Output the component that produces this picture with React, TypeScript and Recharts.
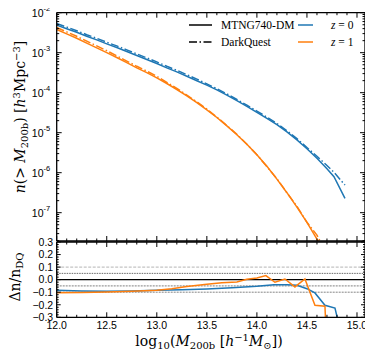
import React from 'react';
import { LineChart, Line, XAxis, YAxis, ReferenceLine } from 'recharts';

const BLUE = '#1f77b4';
const ORANGE = '#ff7f0e';
const TICK_FONT = '"Liberation Sans", Arial, sans-serif';
const SERIF = '"Liberation Serif", "DejaVu Serif", serif';
const TITLE_SERIF = '"DejaVu Serif", "Liberation Serif", serif';
const DASHDOT = '8 2.5 1.5 2.5';

// ---- data: cumulative halo mass function, log10 n(>M) ----
const massZ0 = [12.0, 12.1, 12.2, 12.3, 12.4, 12.5, 12.6, 12.7, 12.8, 12.9, 13.0, 13.1, 13.2, 13.3, 13.4, 13.5, 13.6, 13.7, 13.8, 13.9, 14.0, 14.1, 14.2, 14.3, 14.4, 14.5, 14.6, 14.7, 14.77, 14.88];
const logMtngZ0 = [-2.31, -2.40, -2.49, -2.59, -2.68, -2.78, -2.87, -2.97, -3.07, -3.17, -3.27, -3.38, -3.48, -3.59, -3.70, -3.81, -3.93, -4.06, -4.20, -4.34, -4.49, -4.64, -4.80, -4.98, -5.18, -5.40, -5.64, -5.90, -6.10, -6.64];
const logDqZ0 = [-2.27, -2.36, -2.45, -2.55, -2.64, -2.74, -2.83, -2.93, -3.03, -3.13, -3.23, -3.34, -3.44, -3.55, -3.66, -3.78, -3.90, -4.03, -4.17, -4.31, -4.46, -4.61, -4.77, -4.95, -5.15, -5.37, -5.59, -5.82, -5.99, -6.31];

const massZ1 = [12.0, 12.1, 12.2, 12.3, 12.4, 12.5, 12.6, 12.7, 12.8, 12.9, 13.0, 13.1, 13.2, 13.3, 13.4, 13.5, 13.6, 13.7, 13.8, 13.9, 14.0, 14.1, 14.2, 14.3, 14.4, 14.5, 14.6, 14.7];
const logMtngZ1 = [-2.42, -2.53, -2.64, -2.76, -2.88, -3.00, -3.12, -3.25, -3.38, -3.50, -3.63, -3.77, -3.92, -4.08, -4.25, -4.43, -4.62, -4.83, -5.05, -5.29, -5.55, -5.84, -6.16, -6.50, -6.86, -7.24, -7.66, -8.12];
const logDqZ1 = [-2.37, -2.48, -2.59, -2.71, -2.83, -2.95, -3.08, -3.21, -3.34, -3.46, -3.59, -3.74, -3.89, -4.06, -4.23, -4.41, -4.61, -4.82, -5.04, -5.29, -5.55, -5.85, -6.15, -6.50, -6.84, -7.24, -7.56, -8.05];

// ---- data: relative difference Δn/n_DQ ----
const ratioMassZ0 = [12.0, 12.25, 12.5, 12.75, 13.0, 13.25, 13.5, 13.75, 14.0, 14.17, 14.3, 14.4, 14.5, 14.58, 14.68, 14.78, 14.82];
const ratioZ0 = [-0.085, -0.09, -0.093, -0.09, -0.085, -0.08, -0.074, -0.065, -0.053, -0.04, -0.04, -0.045, -0.072, -0.106, -0.204, -0.226, -0.36];
const ratioMassZ1 = [12.0, 12.25, 12.5, 12.75, 13.0, 13.15, 13.3, 13.5, 13.65, 13.8, 13.9, 14.0, 14.09, 14.18, 14.28, 14.38, 14.48, 14.58, 14.68, 14.69];
const ratioZ1 = [-0.104, -0.103, -0.098, -0.093, -0.085, -0.072, -0.055, -0.037, -0.024, -0.019, 0.003, 0.013, 0.032, -0.021, 0.005, -0.058, 0.005, -0.204, -0.212, -0.40];

// ---- ticks ----
const xMajorTicks = [12.0, 12.5, 13.0, 13.5, 14.0, 14.5, 15.0];
const xDomain = [12.0, 15.08];
const yTopMajorTicks = [1e-7, 1e-6, 1e-5, 1e-4, 1e-3, 1e-2];
const yTopDomain = [1.96e-8, 1e-2];
const yBotMajorTicks = [-0.3, -0.2, -0.1, 0.0, 0.1, 0.2, 0.3];
const refLevels = [0.1, 0.05, 0.0, -0.05, -0.1];

const xAllTicks: number[] = [];
for (let i = 120; i <= 150; i++) xAllTicks.push(i / 10);
const yTopAllTicks: number[] = [];
for (let e = -8; e <= -3; e++) for (let k = 1; k <= 9; k++) {
  const v = k * Math.pow(10, e);
  if (v >= yTopDomain[0] && v <= yTopDomain[1] * 1.0001) yTopAllTicks.push(v);
}
yTopAllTicks.push(1e-2);
const yBotAllTicks: number[] = [];
for (let i = -15; i <= 15; i++) yBotAllTicks.push(i / 50);

const toTable = (xs: number[], logs: number[]) => xs.map((x, i) => ({ x, y: Math.pow(10, logs[i]) }));
const toPairs = (xs: number[], ys: number[]) => xs.map((x, i) => ({ x, y: ys[i] }));

const isXMajor = (v: number) => xMajorTicks.some((t) => Math.abs(t - v) < 1e-6);
const isLogMajor = (v: number) => yTopMajorTicks.some((t) => Math.abs(Math.log10(t) - Math.log10(v)) < 1e-6);
const isBotMajor = (v: number) => yBotMajorTicks.some((t) => Math.abs(t - v) < 1e-6);

type Side = 'left' | 'right' | 'top' | 'bottom';
const makeTick = (side: Side, isMajor: (v: number) => boolean, majLen: number, minLen: number,
  label?: (v: number, x: number, y: number) => React.ReactNode) => (props: any) => {
  const { x, y, payload } = props;
  const v = payload.value;
  const maj = isMajor(v);
  const L = maj ? majLen : minLen;
  let x2 = x, y2 = y;
  if (side === 'left') x2 = x + L;
  if (side === 'right') x2 = x - L;
  if (side === 'top') y2 = y + L;
  if (side === 'bottom') y2 = y - L;
  return (
    <g>
      <line x1={x} y1={y} x2={x2} y2={y2} stroke="#000" strokeWidth={1} />
      {maj && label ? label(v, x, y) : null}
    </g>
  );
};

const xLabel = (v: number, x: number, y: number) => (
  <text x={x} y={y + 12} textAnchor="middle" fontFamily={TICK_FONT} fontSize={10.5} fill="#000">{v.toFixed(1)}</text>
);
const logLabel = (v: number, x: number, y: number) => {
  const e = Math.round(Math.log10(v));
  return (
    <text x={x - 6.5} y={y + 4} textAnchor="end" fontFamily={TICK_FONT} fontSize={10.5} fill="#000">
      <tspan>10</tspan>
      <tspan dy={-5.5} fontSize={7.5}>{'-' + Math.abs(e)}</tspan>
    </text>
  );
};
const botLabel = (v: number, x: number, y: number) => {
  const r = Math.round(v * 10) / 10;
  const s = r === 0 ? '0.0' : (r < 0 ? '\u2212' + Math.abs(r).toFixed(1) : r.toFixed(1));
  return (
    <text x={x - 3.5} y={y + 3.8} textAnchor="end" fontFamily={TICK_FONT} fontSize={10.5} fill="#000">{s}</text>
  );
};

const AXIS_LINE = { stroke: '#000', strokeWidth: 1.3 };

const refStyles = [
  { stroke: '#c4c4c4', dash: '3 1.5', w: 1.3 },
  { stroke: '#444', dash: '1.5 1', w: 0.8 },
  { stroke: '#000', dash: undefined, w: 1.3 },
  { stroke: '#9a9a9a', dash: '2 1', w: 1.3 },
  { stroke: '#666', dash: '2 1', w: 0.8 },
];

export default function App() {
  return (
    <div style={{ position: 'relative', width: 373, height: 360, margin: '-8px 0 0 -8px', background: '#fff' }}>
      <div style={{ position: 'absolute', left: 0, top: 0 }}>
        <LineChart width={373} height={250} margin={{ top: 11.7, right: 7, bottom: 8, left: 55.7 }}>
          <XAxis xAxisId="b" dataKey="x" type="number" domain={xDomain} allowDataOverflow ticks={xAllTicks} interval={0}
            orientation="bottom" height={1} tickSize={0} tickMargin={0} tickLine={false} axisLine={AXIS_LINE}
            tick={makeTick('bottom', isXMajor, 5, 2.5)} />
          <XAxis xAxisId="t" dataKey="x" type="number" domain={xDomain} allowDataOverflow ticks={xAllTicks} interval={0}
            orientation="top" height={1} tickSize={0} tickMargin={0} tickLine={false} axisLine={AXIS_LINE}
            tick={makeTick('top', isXMajor, 5, 2.5)} />
          <YAxis yAxisId="l" type="number" scale="log" domain={yTopDomain} allowDataOverflow ticks={yTopAllTicks} interval={0}
            orientation="left" width={1} tickSize={0} tickMargin={0} tickLine={false} axisLine={AXIS_LINE}
            tick={makeTick('left', isLogMajor, 5, 2.5, logLabel)} />
          <YAxis yAxisId="r" type="number" scale="log" domain={yTopDomain} allowDataOverflow ticks={yTopAllTicks} interval={0}
            orientation="right" width={1} tickSize={0} tickMargin={0} tickLine={false} axisLine={AXIS_LINE}
            tick={makeTick('right', isLogMajor, 5, 2.5)} />
          <Line xAxisId="b" yAxisId="l" data={toTable(massZ1, logDqZ1)} dataKey="y" stroke={ORANGE} strokeWidth={1.5}
            strokeDasharray={DASHDOT} dot={false} isAnimationActive={false} />
          <Line xAxisId="b" yAxisId="l" data={toTable(massZ1, logMtngZ1)} dataKey="y" stroke={ORANGE} strokeWidth={1.5}
            dot={false} isAnimationActive={false} />
          <Line xAxisId="b" yAxisId="l" data={toTable(massZ0, logDqZ0)} dataKey="y" stroke={BLUE} strokeWidth={1.5}
            strokeDasharray={DASHDOT} dot={false} isAnimationActive={false} />
          <Line xAxisId="b" yAxisId="l" data={toTable(massZ0, logMtngZ0)} dataKey="y" stroke={BLUE} strokeWidth={1.5}
            dot={false} isAnimationActive={false} />
        </LineChart>
      </div>
      <div style={{ position: 'absolute', left: 0, top: 230 }}>
        <LineChart width={373} height={130} margin={{ top: 11, right: 7, bottom: 41.7, left: 55.7 }}>
          <XAxis xAxisId="b" dataKey="x" type="number" domain={xDomain} allowDataOverflow ticks={xAllTicks} interval={0}
            orientation="bottom" height={1} tickSize={0} tickMargin={0} tickLine={false} axisLine={AXIS_LINE}
            tick={makeTick('bottom', isXMajor, 5, 2.5, xLabel)} />
          <XAxis xAxisId="t" dataKey="x" type="number" domain={xDomain} allowDataOverflow ticks={xAllTicks} interval={0}
            orientation="top" height={1} tickSize={0} tickMargin={0} tickLine={false} axisLine={AXIS_LINE}
            tick={makeTick('top', isXMajor, 5, 2.5)} />
          <YAxis yAxisId="l" type="number" domain={[-0.3, 0.3]} allowDataOverflow ticks={yBotAllTicks} interval={0}
            orientation="left" width={1} tickSize={0} tickMargin={0} tickLine={false} axisLine={AXIS_LINE}
            tick={makeTick('left', isBotMajor, 4, 2, botLabel)} />
          <YAxis yAxisId="r" type="number" domain={[-0.3, 0.3]} allowDataOverflow ticks={yBotAllTicks} interval={0}
            orientation="right" width={1} tickSize={0} tickMargin={0} tickLine={false} axisLine={AXIS_LINE}
            tick={makeTick('right', isBotMajor, 4, 2)} />
          {refLevels.map((lv, i) => (
            <ReferenceLine key={i} xAxisId="b" yAxisId="l" y={lv} stroke={refStyles[i].stroke}
              strokeWidth={refStyles[i].w} strokeDasharray={refStyles[i].dash} ifOverflow="hidden" />
          ))}
          <Line xAxisId="b" yAxisId="l" data={toPairs(ratioMassZ0, ratioZ0)} dataKey="y" stroke={BLUE} strokeWidth={1.5}
            dot={false} isAnimationActive={false} />
          <Line xAxisId="b" yAxisId="l" data={toPairs(ratioMassZ1, ratioZ1)} dataKey="y" stroke={ORANGE} strokeWidth={1.5}
            dot={false} isAnimationActive={false} />
        </LineChart>
      </div>
      <svg width={373} height={360} style={{ position: 'absolute', left: 0, top: 0, pointerEvents: 'none' }}>
        {/* legend */}
        <line x1={189} y1={25} x2={212} y2={25} stroke="#000" strokeWidth={1.5} />
        <text x={221} y={29} fontFamily={SERIF} fontSize={11.5} fill="#000">MTNG740-DM</text>
        <line x1={298} y1={25} x2={313} y2={25} stroke={BLUE} strokeWidth={1.5} />
        <text x={331} y={29} fontFamily={SERIF} fontSize={11.5} fill="#000">
          <tspan fontStyle="italic">z</tspan><tspan> = 0</tspan>
        </text>
        <line x1={189} y1={42} x2={212} y2={42} stroke="#000" strokeWidth={1.5} strokeDasharray={DASHDOT} />
        <text x={221} y={46} fontFamily={SERIF} fontSize={11.5} fill="#000">DarkQuest</text>
        <line x1={298} y1={42} x2={313} y2={42} stroke={ORANGE} strokeWidth={1.5} />
        <text x={331} y={46} fontFamily={SERIF} fontSize={11.5} fill="#000">
          <tspan fontStyle="italic">z</tspan><tspan> = 1</tspan>
        </text>
        {/* top y title */}
        <text transform="translate(25,117) rotate(-90)" textAnchor="middle" fontFamily={TITLE_SERIF} fontSize={14} fill="#000">
          <tspan fontStyle="italic">n</tspan>
          <tspan>(&gt; </tspan>
          <tspan fontStyle="italic">M</tspan>
          <tspan dy={3} fontSize={10}>200b</tspan>
          <tspan dy={-3}>) [</tspan>
          <tspan fontStyle="italic">h</tspan>
          <tspan dy={-5} fontSize={10}>3</tspan>
          <tspan dy={5}>Mpc</tspan>
          <tspan dy={-5} fontSize={10}>{'\u22123'}</tspan>
          <tspan dy={5}>]</tspan>
        </text>
        {/* bottom y title */}
        <text transform="translate(20,277) rotate(-90)" textAnchor="middle" fontFamily={TITLE_SERIF} fontSize={14} fill="#000">
          <tspan>{'\u0394n/n'}</tspan>
          <tspan dy={3} fontSize={10}>DQ</tspan>
        </text>
        {/* x title */}
        <text x={209} y={346} textAnchor="middle" fontFamily={TITLE_SERIF} fontSize={14} fill="#000">
          <tspan>log</tspan>
          <tspan dy={3} fontSize={10}>10</tspan>
          <tspan dy={-3}>(</tspan>
          <tspan fontStyle="italic">M</tspan>
          <tspan dy={3} fontSize={10}>200b</tspan>
          <tspan dy={-3}> [</tspan>
          <tspan fontStyle="italic">h</tspan>
          <tspan dy={-5} fontSize={10}>{'\u22121'}</tspan>
          <tspan dy={5} fontStyle="italic">M</tspan>
          <tspan dy={3} fontSize={10}>{'\u2299'}</tspan>
          <tspan dy={-3}>])</tspan>
        </text>
      </svg>
    </div>
  );
}
